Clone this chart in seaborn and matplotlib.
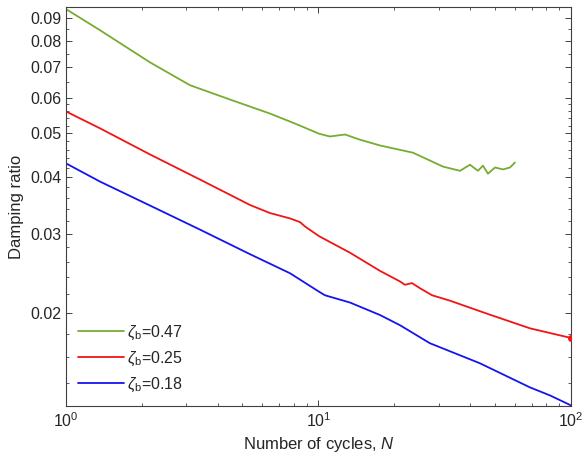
import numpy as np
import pandas as pd
import matplotlib
matplotlib.use("Agg")
import matplotlib.pyplot as plt
from matplotlib.ticker import FixedLocator, FixedFormatter, NullFormatter, LogLocator
import seaborn as sns

# Damping ratio vs. number of cycles for three initial damping levels
n_047 = [1, 1.363, 2.151, 3.098, 4.462, 6.425, 7.712, 8.447, 10.05, 11.10, 12.74,
         14.60, 17.52, 23.67, 31.12, 36.35, 39.81, 42.82, 44.82, 46.92, 50.0,
         53.79, 57.33, 60.0]
d_047 = [0.0942, 0.0846, 0.0718, 0.0639, 0.0594, 0.0553, 0.0531, 0.0520, 0.0499,
         0.0492, 0.0497, 0.0484, 0.0470, 0.0453, 0.0422, 0.0413, 0.0426, 0.0413,
         0.0424, 0.0407, 0.0420, 0.0416, 0.0420, 0.0431]

n_025 = [1, 1.363, 2.151, 3.395, 5.354, 6.425, 7.712, 8.447, 8.842, 10.05, 13.33,
         17.52, 21.02, 22.00, 23.46, 25.23, 28.16, 33.18, 46.92, 68.8, 96.4, 100]
d_025 = [0.0559, 0.0513, 0.0449, 0.0395, 0.0347, 0.0333, 0.0324, 0.0318, 0.0311,
         0.0296, 0.0272, 0.0248, 0.0235, 0.0231, 0.0233, 0.0227, 0.0219, 0.0213,
         0.0199, 0.0185, 0.0177, 0.0176]

n_018 = [1, 1.363, 2.151, 3.395, 5.354, 7.712, 10.05, 10.6, 13.33, 17.52, 21.02,
         27.6, 43.6, 68.8, 82.6, 100]
d_018 = [0.0429, 0.0391, 0.0346, 0.0306, 0.0270, 0.0245, 0.0223, 0.0219, 0.0211,
         0.0198, 0.0188, 0.01715, 0.01548, 0.01369, 0.01314, 0.01249]

labels = [r"$\zeta_\mathrm{b}$=0.47", r"$\zeta_\mathrm{b}$=0.25", r"$\zeta_\mathrm{b}$=0.18"]
colors = ["#77AC30", "#F01414", "#1414F0"]

y_major = [0.02, 0.03, 0.04, 0.05, 0.06, 0.07, 0.08, 0.09]
y_major_text = ["0.02", "0.03", "0.04", "0.05", "0.06", "0.07", "0.08", "0.09"]

df = pd.concat([
    pd.DataFrame({"N": n_047, "ratio": d_047, "case": labels[0]}),
    pd.DataFrame({"N": n_025, "ratio": d_025, "case": labels[1]}),
    pd.DataFrame({"N": n_018, "ratio": d_018, "case": labels[2]}),
], ignore_index=True)

sns.set_style("ticks")
plt.rcParams["font.family"] = ["Liberation Sans", "DejaVu Sans"]
plt.rcParams["mathtext.fontset"] = "custom"
plt.rcParams["mathtext.rm"] = "Liberation Sans"
plt.rcParams["mathtext.it"] = "Liberation Sans:italic"

fig = plt.figure(figsize=(5.85, 4.62), dpi=100)
ax = fig.add_axes([0.1128, 0.1212, 0.8632, 0.8636])

sns.lineplot(data=df, x="N", y="ratio", hue="case", hue_order=labels,
             palette=dict(zip(labels, colors)), sort=False, estimator=None,
             linewidth=1.3, ax=ax)

# small end blob on the red series
ax.plot(n_025[-1:], d_025[-1:], "o", color=colors[1], markersize=4, zorder=3)

ax.set_xscale("log")
ax.set_yscale("log")
ax.set_xlim(1, 100)
ax.set_ylim(0.01245, 0.0952)

ax.xaxis.set_major_locator(FixedLocator([1, 10, 100]))
ax.xaxis.set_major_formatter(FixedFormatter([r"$10^0$", r"$10^1$", r"$10^2$"]))
ax.xaxis.set_minor_locator(LogLocator(base=10, subs=np.arange(2, 10)))
ax.xaxis.set_minor_formatter(NullFormatter())

ax.yaxis.set_major_locator(FixedLocator(y_major))
ax.yaxis.set_major_formatter(FixedFormatter(y_major_text))
ax.yaxis.set_minor_locator(FixedLocator(
    [0.014, 0.016, 0.018, 0.022, 0.024, 0.026, 0.028, 0.032, 0.034, 0.036, 0.038,
     0.042, 0.044, 0.046, 0.048, 0.052, 0.054, 0.056, 0.058, 0.065, 0.075, 0.085]))
ax.yaxis.set_minor_formatter(NullFormatter())

ax.tick_params(which="both", direction="in", top=True, right=True,
               colors="#404040", labelcolor="#262626", labelsize=11.5)
ax.tick_params(which="major", length=4, width=0.7)
ax.tick_params(which="minor", length=2.2, width=0.6)
for s in ax.spines.values():
    s.set_visible(True)
    s.set_color("#404040")
    s.set_linewidth(0.8)

ax.set_xlabel(r"Number of cycles, $\mathit{N}$", fontsize=12, color="#262626")
ax.set_ylabel("Damping ratio", fontsize=12, color="#262626")

ax.legend(loc="lower left", frameon=False, fontsize=11.5, handlelength=2.9,
          labelspacing=0.48, borderaxespad=0.35, handletextpad=0.15)

fig.savefig("out.png", dpi=100)
